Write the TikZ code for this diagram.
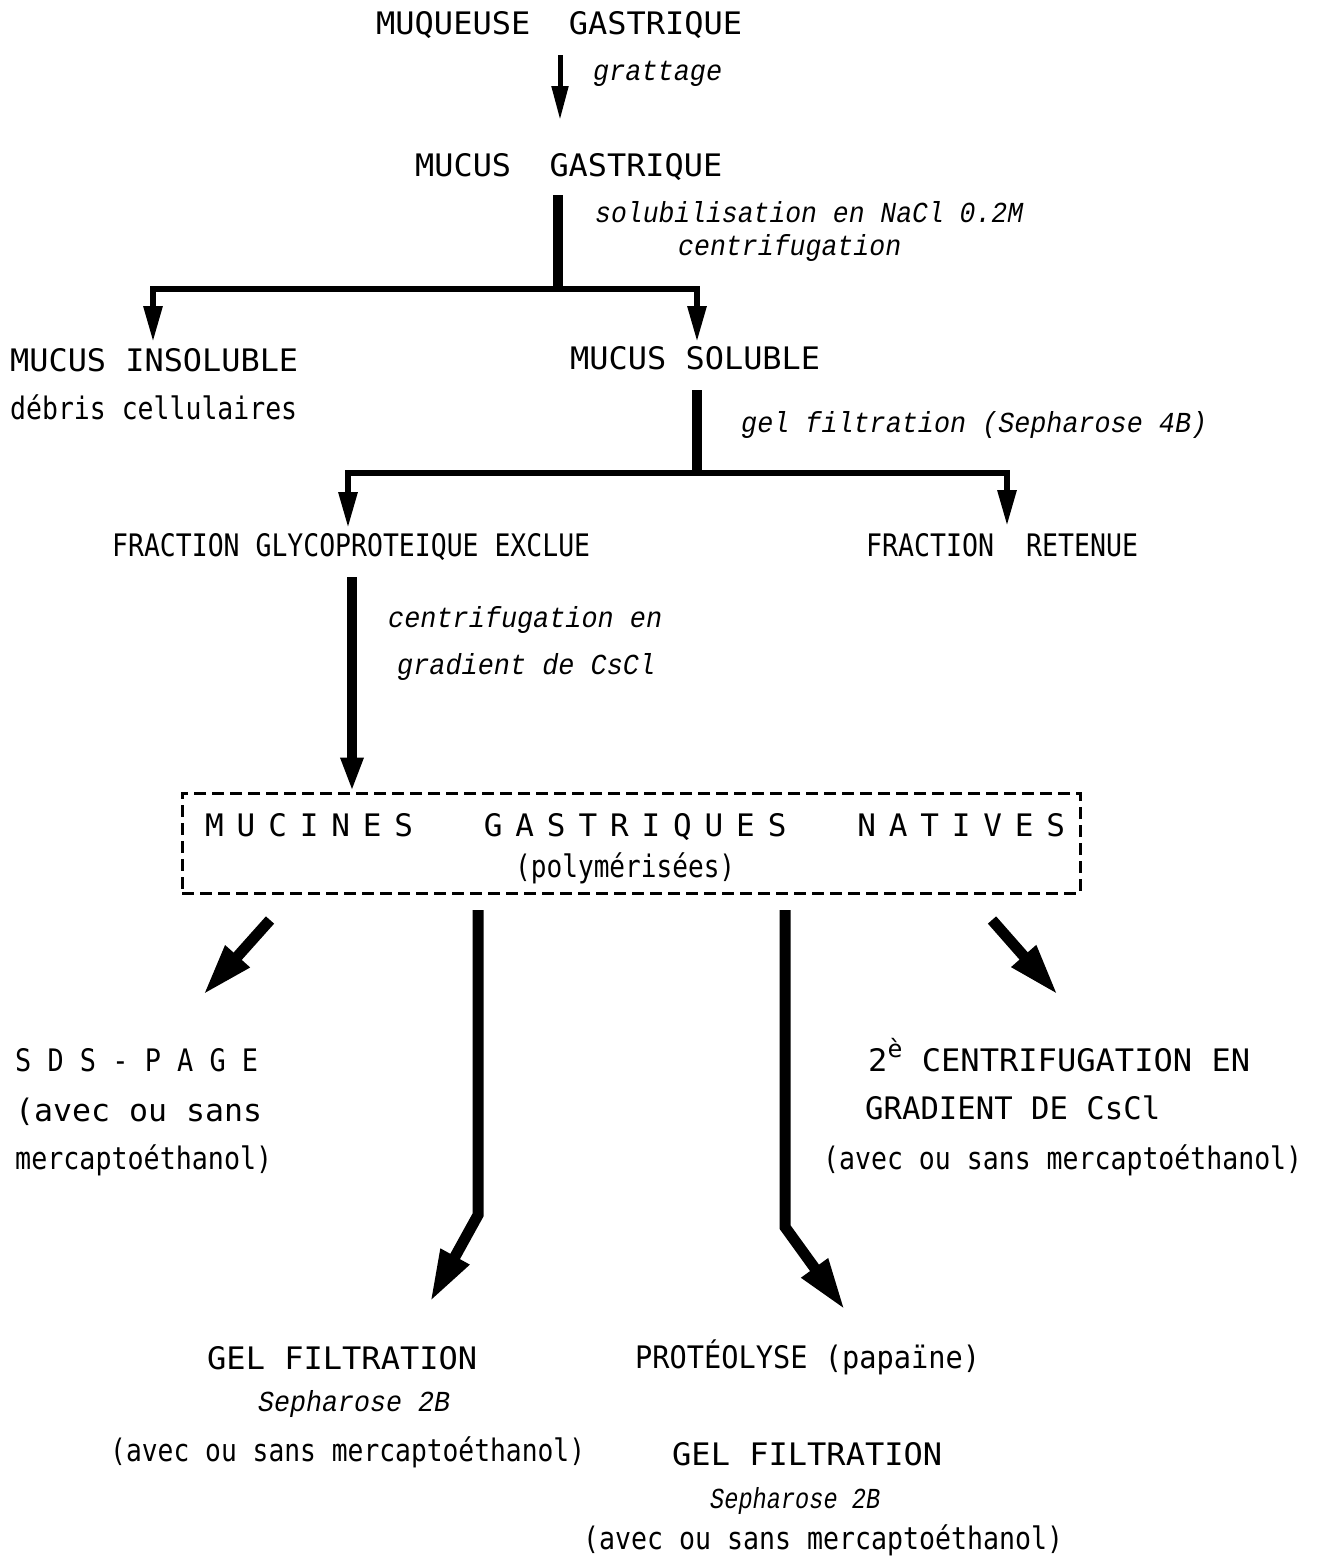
\documentclass[tikz,border=0pt]{standalone}
\usepackage{fontspec}
\usepackage{graphicx}
\usetikzlibrary{arrows.meta}
\newfontfamily\myup{DejaVu Sans Mono}
\newfontfamily\myit{Liberation Mono}
\newcommand\W[2]{\resizebox{#1}{\height}{#2}}
\tikzset{
  lbl/.style={anchor=base west, inner sep=0pt, font=\myup\fontsize{31}{34}\selectfont},
  ilbl/.style={anchor=base west, inner sep=0pt, font=\myit\itshape\fontsize{29}{32}\selectfont},
  thinarrow/.style={line width=5pt, -{Triangle[length=34pt,width=16pt]}},
  branch/.style={line width=6pt, line join=miter, {Triangle[length=36pt,width=18pt]}-{Triangle[length=36pt,width=18pt]}},
  trunk/.style={line width=10pt},
  midarrow/.style={line width=10pt, -{Triangle[length=34pt,width=21pt]}},
  bigarrow/.style={line width=11pt, line join=miter, -{Triangle[length=52pt,width=30pt]}},
  dashbox/.style={draw, line width=3pt, dash pattern=on 12pt off 6pt, inner sep=0pt},
}
\begin{document}
\begin{tikzpicture}[x=1pt,y=-1pt]
\useasboundingbox (0,0) rectangle (1318,1559);
% texts
\node[lbl] (muq) at (376,34) {\W{366pt}{MUQUEUSE\ \ GASTRIQUE}};
\node[ilbl] (gratt) at (593,80) {\W{129pt}{grattage}};
\node[lbl] (mucg) at (415,176) {\W{307pt}{MUCUS\ \ GASTRIQUE}};
\node[ilbl] (solub) at (595,222) {\W{428pt}{solubilisation en NaCl 0.2M}};
\node[ilbl] (centr) at (678,255) {\W{223pt}{centrifugation}};
\node[lbl] (insol) at (10,371) {\W{288pt}{MUCUS INSOLUBLE}};
\node[lbl] (debris) at (10,419) {\W{287pt}{débris cellulaires}};
\node[lbl] (sol) at (570,369) {\W{250pt}{MUCUS SOLUBLE}};
\node[ilbl] (gelf) at (741,432) {\W{466pt}{gel filtration (Sepharose 4B)}};
\node[lbl] (excl) at (112,556) {\W{478pt}{FRACTION GLYCOPROTEIQUE EXCLUE}};
\node[lbl] (ret) at (866,556) {\W{272pt}{FRACTION\ \ RETENUE}};
\node[ilbl] (cscl1) at (388,627) {\W{274pt}{centrifugation en}};
\node[ilbl] (cscl2) at (397,674) {\W{258pt}{gradient de CsCl}};
\node[dashbox, minimum width=898pt, minimum height=100pt] (box) at (631,843) {};
\node[lbl] (mucines) at (205,836) {\makebox[860pt]{M\hfill U\hfill C\hfill I\hfill N\hfill E\hfill S\hskip 0pt plus 5.5fill
G\hfill A\hfill S\hfill T\hfill R\hfill I\hfill Q\hfill U\hfill E\hfill S\hskip 0pt plus 5.5fill
N\hfill A\hfill T\hfill I\hfill V\hfill E\hfill S}};
\node[lbl] (poly) at (515,877) {\W{220pt}{(polymérisées)}};
\node[lbl] (sds) at (15,1071) {\W{243pt}{S D S - P A G E}};
\node[lbl] (sds2) at (15,1121) {\W{247pt}{(avec ou sans}};
\node[lbl] (sds3) at (15,1169) {\W{257pt}{mercaptoéthanol)}};
\node[lbl] (c2a) at (868,1071) {\W{382pt}{2\raisebox{0.45em}{\fontsize{24}{26}\selectfont è} CENTRIFUGATION EN}};
\node[lbl] (c2b) at (865,1119) {\W{295pt}{GRADIENT DE CsCl}};
\node[lbl] (c2c) at (823,1169) {\W{479pt}{(avec ou sans mercaptoéthanol)}};
\node[lbl] (gf1) at (207,1369) {\W{270pt}{GEL FILTRATION}};
\node[ilbl] (gf1b) at (258,1411) {\W{192pt}{Sepharose 2B}};
\node[lbl] (gf1c) at (110,1461) {\W{475pt}{(avec ou sans mercaptoéthanol)}};
\node[lbl] (prot) at (635,1368) {\W{345pt}{PROTÉOLYSE (papaïne)}};
\node[lbl] (gf2) at (672,1465) {\W{270pt}{GEL FILTRATION}};
\node[ilbl] (gf2b) at (710,1508) {\W{170pt}{Sepharose 2B}};
\node[lbl] (gf2c) at (583,1549) {\W{480pt}{(avec ou sans mercaptoéthanol)}};
% connector points
\coordinate (a1s) at (560,55);
\coordinate (a1e) at (560,120);
\coordinate (j1t) at (558,195);
\coordinate (j1) at (558,289);
\coordinate (b1l) at (153,289);
\coordinate (b1r) at (697,289);
\coordinate (b1le) at (153,342);
\coordinate (b1re) at (697,342);
\coordinate (j2t) at (697,390);
\coordinate (j2) at (697,473);
\coordinate (b2l) at (348,473);
\coordinate (b2r) at (1007,473);
\coordinate (b2le) at (348,528);
\coordinate (b2re) at (1007,526);
\coordinate (a3s) at (352,577);
\coordinate (dls) at (270,920);
\coordinate (dle) at (203,995);
\coordinate (vls) at (478,910);
\coordinate (vlk) at (478,1215);
\coordinate (vle) at (430,1302);
\coordinate (vrs) at (785,910);
\coordinate (vrk) at (785,1227);
\coordinate (vre) at (845,1310);
\coordinate (drs) at (992,920);
\coordinate (dre) at (1058,995);
% connectors
\draw[thinarrow] (a1s) -- (a1e);
\draw[trunk] (j1t) -- (j1);
\draw[branch] (b1le) -- (b1l) -- (b1r) -- (b1re);
\draw[trunk] (j2t) -- (j2);
\draw[branch] (b2le) -- (b2l) -- (b2r) -- (b2re);
\draw[midarrow] (a3s) -- (a3s |- box.north);
\draw[bigarrow] (dls) -- (dle);
\draw[bigarrow] (vls) -- (vlk) -- (vle);
\draw[bigarrow] (vrs) -- (vrk) -- (vre);
\draw[bigarrow] (drs) -- (dre);
\end{tikzpicture}
\end{document}
